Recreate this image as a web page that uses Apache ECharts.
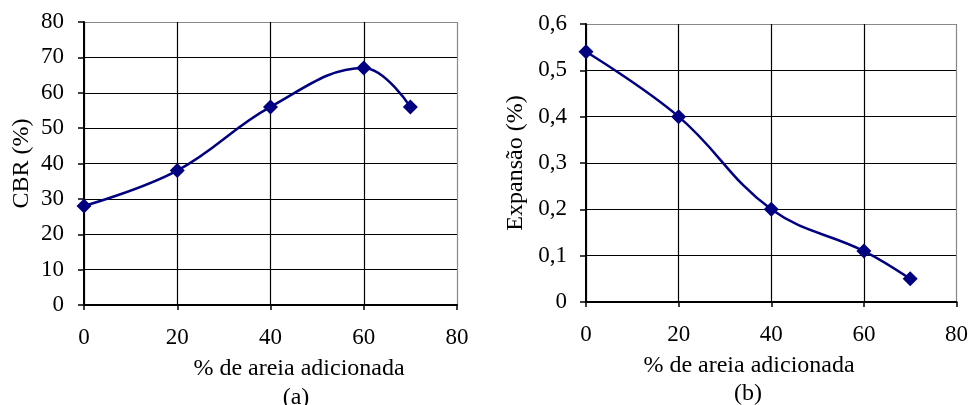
<!DOCTYPE html>
<html><head><meta charset="utf-8">
<script src="https://cdn.jsdelivr.net/npm/echarts@6/dist/echarts.min.js"></script>
<style>html,body{margin:0;padding:0;background:#fff}#c{width:971px;height:405px}</style>
</head><body><div id="c"></div>
<script>
const sandPct = [0, 20, 40, 60, 70];
const cbrValues = [28, 38, 56, 67, 56];
const expansionValues = [0.54, 0.40, 0.20, 0.11, 0.05];
const xAxisTitle = '% de areia adicionada';
const yTitleA = 'CBR (%)';
const yTitleB = 'Expansão (%)';
const captionA = '(a)';
const captionB = '(b)';

const FONT = 'Liberation Serif';
const navy = '#000080';
function splitColors(n){const a=[];for(let i=0;i<n;i++)a.push(i===n-1?'#888':'#000');return a;}
const chart = echarts.init(document.getElementById('c'));
const xBase = {
  type:'value', min:0, max:80, interval:20,
  axisLine:{show:true,onZero:false,lineStyle:{color:'#000',width:2}},
  axisTick:{show:true,length:5,lineStyle:{color:'#000',width:1.5}},
  axisLabel:{color:'#000',fontFamily:FONT,fontSize:23,margin:21},
  splitLine:{show:true,lineStyle:{color:splitColors(5),width:1.2}}
};
function txt(text,x,y){
  return {type:'text',x:x,y:y,style:{text:text,font:'24px "Liberation Serif"',fill:'#000',align:'center',verticalAlign:'middle'}};
}
chart.setOption({
  animation:false,
  grid:[
    {left:84,right:514,top:22,bottom:100},
    {left:586,right:12,top:24,bottom:103}
  ],
  xAxis:[
    Object.assign({gridIndex:0},xBase),
    Object.assign({gridIndex:1},xBase)
  ],
  yAxis:[
    {gridIndex:0,type:'value',min:0,max:80,interval:10,
     axisLine:{show:true,onZero:false,lineStyle:{color:'#000',width:2}},
     axisTick:{show:true,length:6,lineStyle:{color:'#000',width:1.5}},
     axisLabel:{color:'#000',fontFamily:FONT,fontSize:23,margin:20},
     splitLine:{show:true,lineStyle:{color:splitColors(9),width:1.2}},
     name:yTitleA,nameLocation:'middle',nameGap:50,
     nameTextStyle:{color:'#000',fontFamily:FONT,fontSize:24}},
    {gridIndex:1,type:'value',min:0,max:0.6,interval:0.1,
     axisLine:{show:true,onZero:false,lineStyle:{color:'#000',width:2}},
     axisTick:{show:true,length:6,lineStyle:{color:'#000',width:1.5}},
     axisLabel:{color:'#000',fontFamily:FONT,fontSize:23,margin:19,
       formatter:v=>String(Math.round(v*10)/10).replace('.',',')},
     splitLine:{show:true,lineStyle:{color:splitColors(7),width:1.2}},
     name:yTitleB,nameLocation:'middle',nameGap:58,
     nameTextStyle:{color:'#000',fontFamily:FONT,fontSize:24}}
  ],
  series:[
    {type:'line',xAxisIndex:0,yAxisIndex:0,data:sandPct.map((x,i)=>[x,cbrValues[i]]),
     smooth:0.4,symbol:'diamond',symbolSize:15,
     lineStyle:{color:navy,width:2.5},itemStyle:{color:navy}},
    {type:'line',xAxisIndex:1,yAxisIndex:1,data:sandPct.map((x,i)=>[x,expansionValues[i]]),
     smooth:0.4,symbol:'diamond',symbolSize:15,
     lineStyle:{color:navy,width:2.5},itemStyle:{color:navy}}
  ],
  graphic:[
    txt(xAxisTitle,299,369),
    txt(xAxisTitle,749,366),
    txt(captionA,296,398),
    txt(captionB,748,394)
  ]
});
</script></body></html>
